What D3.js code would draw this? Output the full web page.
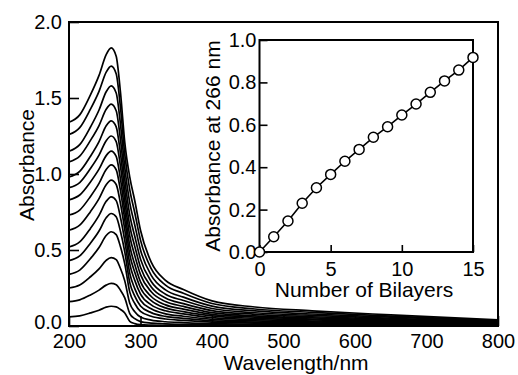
<!DOCTYPE html>
<html>
<head>
<meta charset="utf-8">
<script src="https://cdn.jsdelivr.net/npm/d3@7"></script>
<style>
  html, body { margin: 0; padding: 0; background: #fff; }
  svg { display: block; font-family: "Liberation Sans", Arial, Helvetica, sans-serif; }
</style>
</head>
<body>
<svg id="chart"></svg>
<script>
// wavelength grid (nm) shared by every spectrum
const wavelengths = [200, 215, 230, 242, 252, 259, 266, 272, 278, 285, 292, 300, 315, 335, 360, 400, 460, 540, 650, 800];

// absorbance spectra, one row per bilayer count (1 .. 15)
const spectra = [
  [0.060, 0.067, 0.086, 0.104, 0.124, 0.130, 0.126, 0.109, 0.086, 0.031, 0.016, 0.009, 0.006, 0.004, 0.003, 0.002, 0.002, 0.001, 0.001, 0.001],
  [0.160, 0.172, 0.204, 0.236, 0.269, 0.280, 0.272, 0.235, 0.185, 0.082, 0.048, 0.029, 0.019, 0.014, 0.011, 0.008, 0.006, 0.005, 0.003, 0.002],
  [0.250, 0.270, 0.324, 0.376, 0.432, 0.450, 0.437, 0.378, 0.297, 0.149, 0.094, 0.059, 0.039, 0.028, 0.022, 0.015, 0.012, 0.009, 0.007, 0.004],
  [0.340, 0.368, 0.444, 0.516, 0.595, 0.620, 0.601, 0.521, 0.409, 0.223, 0.148, 0.096, 0.064, 0.046, 0.037, 0.025, 0.019, 0.015, 0.011, 0.006],
  [0.430, 0.461, 0.545, 0.625, 0.712, 0.740, 0.718, 0.622, 0.488, 0.285, 0.196, 0.132, 0.088, 0.063, 0.050, 0.034, 0.026, 0.021, 0.015, 0.008],
  [0.520, 0.553, 0.642, 0.728, 0.820, 0.850, 0.825, 0.714, 0.561, 0.346, 0.246, 0.169, 0.113, 0.080, 0.064, 0.044, 0.034, 0.027, 0.020, 0.011],
  [0.630, 0.663, 0.752, 0.838, 0.930, 0.960, 0.931, 0.806, 0.634, 0.409, 0.300, 0.209, 0.139, 0.100, 0.080, 0.055, 0.042, 0.033, 0.024, 0.013],
  [0.730, 0.763, 0.852, 0.938, 1.030, 1.060, 1.028, 0.890, 0.700, 0.470, 0.353, 0.250, 0.167, 0.119, 0.095, 0.066, 0.050, 0.040, 0.029, 0.016],
  [0.830, 0.862, 0.948, 1.032, 1.121, 1.150, 1.116, 0.966, 0.759, 0.528, 0.405, 0.291, 0.194, 0.139, 0.111, 0.076, 0.058, 0.046, 0.034, 0.018],
  [0.910, 0.944, 1.036, 1.124, 1.219, 1.250, 1.213, 1.050, 0.825, 0.592, 0.463, 0.338, 0.225, 0.161, 0.129, 0.088, 0.067, 0.054, 0.039, 0.021],
  [0.980, 1.017, 1.117, 1.213, 1.317, 1.350, 1.310, 1.134, 0.891, 0.658, 0.524, 0.386, 0.257, 0.184, 0.147, 0.101, 0.077, 0.061, 0.045, 0.024],
  [1.080, 1.118, 1.221, 1.319, 1.426, 1.460, 1.416, 1.226, 0.964, 0.730, 0.590, 0.440, 0.293, 0.209, 0.168, 0.115, 0.087, 0.070, 0.051, 0.028],
  [1.150, 1.193, 1.309, 1.421, 1.541, 1.580, 1.533, 1.327, 1.043, 0.810, 0.664, 0.500, 0.333, 0.238, 0.190, 0.131, 0.099, 0.079, 0.058, 0.032],
  [1.260, 1.305, 1.427, 1.544, 1.670, 1.710, 1.659, 1.436, 1.129, 0.896, 0.745, 0.565, 0.377, 0.269, 0.215, 0.148, 0.112, 0.090, 0.065, 0.036],
  [1.340, 1.389, 1.521, 1.649, 1.786, 1.830, 1.775, 1.537, 1.208, 0.979, 0.824, 0.630, 0.420, 0.300, 0.240, 0.165, 0.125, 0.100, 0.073, 0.040]
];

// inset: absorbance at 266 nm vs number of bilayers
const bilayers = [0, 1, 2, 3, 4, 5, 6, 7, 8, 9, 10, 11, 12, 13, 14, 15];
const abs266 = [0.000, 0.072, 0.146, 0.230, 0.303, 0.366, 0.428, 0.484, 0.541, 0.591, 0.646, 0.698, 0.753, 0.807, 0.858, 0.918];

const xTicks = [200, 300, 400, 500, 600, 700, 800];
const yTicks = [0, 0.5, 1.0, 1.5, 2.0];
const insetXTicks = [0, 5, 10, 15];
const insetYTicks = [0, 0.2, 0.4, 0.6, 0.8, 1.0];

const width = 518;
const height = 375;

const svg = d3.select('#chart').attr('width', width).attr('height', height);

// main plot scales
const x = d3.scaleLinear().domain([200, 800]).range([69, 498]);
const y = d3.scaleLinear().domain([0, 2]).range([326, 22]);

const fmt1 = d3.format('.1f');

// bottom axis (inward ticks)
const gx = svg.append('g')
    .attr('transform', `translate(0,${y(0)})`)
    .call(d3.axisBottom(x).tickValues(xTicks).tickSize(-10).tickPadding(8));
gx.selectAll('text').attr('font-size', 20);

// left axis
const gy = svg.append('g')
    .attr('transform', `translate(${x(200)},0)`)
    .call(d3.axisLeft(y).tickValues(yTicks).tickSize(-10).tickPadding(7).tickFormat(fmt1));
gy.selectAll('text').attr('font-size', 20);
// the 0.0 label sits a touch high in the original, clear of the 200 label
gy.selectAll('text').filter((d) => d === 0).attr('dy', '0.1em');

[gx, gy].forEach((g) => {
    g.select('.domain').remove();
    g.selectAll('.tick line').attr('stroke', '#000').attr('stroke-width', 1.6);
    g.selectAll('text').attr('fill', '#000');
    g.attr('font-family', null);
});

// spectra
const line = d3.line()
    .x((d, i) => x(wavelengths[i]))
    .y((d) => y(d))
    .curve(d3.curveMonotoneX);

svg.append('g')
    .selectAll('path')
    .data(spectra)
    .join('path')
    .attr('d', line)
    .attr('fill', 'none')
    .attr('stroke', '#000')
    .attr('stroke-width', 1.7);

// main frame
svg.append('rect')
    .attr('x', x(200))
    .attr('y', y(2))
    .attr('width', x(800) - x(200))
    .attr('height', y(0) - y(2))
    .attr('fill', 'none')
    .attr('stroke', '#000')
    .attr('stroke-width', 2);

// axis titles
svg.append('text')
    .attr('x', 296)
    .attr('y', 370)
    .attr('text-anchor', 'middle')
    .attr('font-size', 21)
    .text('Wavelength/nm');

svg.append('text')
    .attr('transform', 'translate(27,165) rotate(-90)')
    .attr('text-anchor', 'middle')
    .attr('dy', '0.35em')
    .attr('font-size', 21)
    .text('Absorbance');

// ---- inset ----
const ix = d3.scaleLinear().domain([0, 15]).range([259.5, 473]);
const iy = d3.scaleLinear().domain([0, 1]).range([252, 40]);

const igx = svg.append('g')
    .attr('transform', `translate(0,${iy(0)})`)
    .call(d3.axisBottom(ix).tickValues(insetXTicks).tickSize(-7).tickPadding(10));
igx.selectAll('text').attr('font-size', 20);

const igy = svg.append('g')
    .attr('transform', `translate(${ix(0)},0)`)
    .call(d3.axisLeft(iy).tickValues(insetYTicks).tickSize(-8).tickPadding(3).tickFormat(fmt1));
igy.selectAll('text').attr('font-size', 20);

[igx, igy].forEach((g) => {
    g.select('.domain').remove();
    g.selectAll('.tick line').attr('stroke', '#000').attr('stroke-width', 1.6);
    g.selectAll('text').attr('fill', '#000');
    g.attr('font-family', null);
});

svg.append('rect')
    .attr('x', ix(0))
    .attr('y', iy(1))
    .attr('width', ix(15) - ix(0))
    .attr('height', iy(0) - iy(1))
    .attr('fill', 'none')
    .attr('stroke', '#000')
    .attr('stroke-width', 2);

svg.append('path')
    .datum(abs266)
    .attr('d', d3.line().x((d, i) => ix(bilayers[i])).y((d) => iy(d)))
    .attr('fill', 'none')
    .attr('stroke', '#000')
    .attr('stroke-width', 1.6);

svg.append('g')
    .selectAll('circle')
    .data(abs266)
    .join('circle')
    .attr('cx', (d, i) => ix(bilayers[i]))
    .attr('cy', (d) => iy(d))
    .attr('r', 5)
    .attr('fill', '#fff')
    .attr('stroke', '#000')
    .attr('stroke-width', 1.5);

svg.append('text')
    .attr('x', 364)
    .attr('y', 297)
    .attr('text-anchor', 'middle')
    .attr('font-size', 21)
    .text('Number of Bilayers');

svg.append('text')
    .attr('transform', 'translate(213,146) rotate(-90)')
    .attr('text-anchor', 'middle')
    .attr('dy', '0.35em')
    .attr('font-size', 21)
    .text('Absorbance at 266 nm');
</script>
</body>
</html>
